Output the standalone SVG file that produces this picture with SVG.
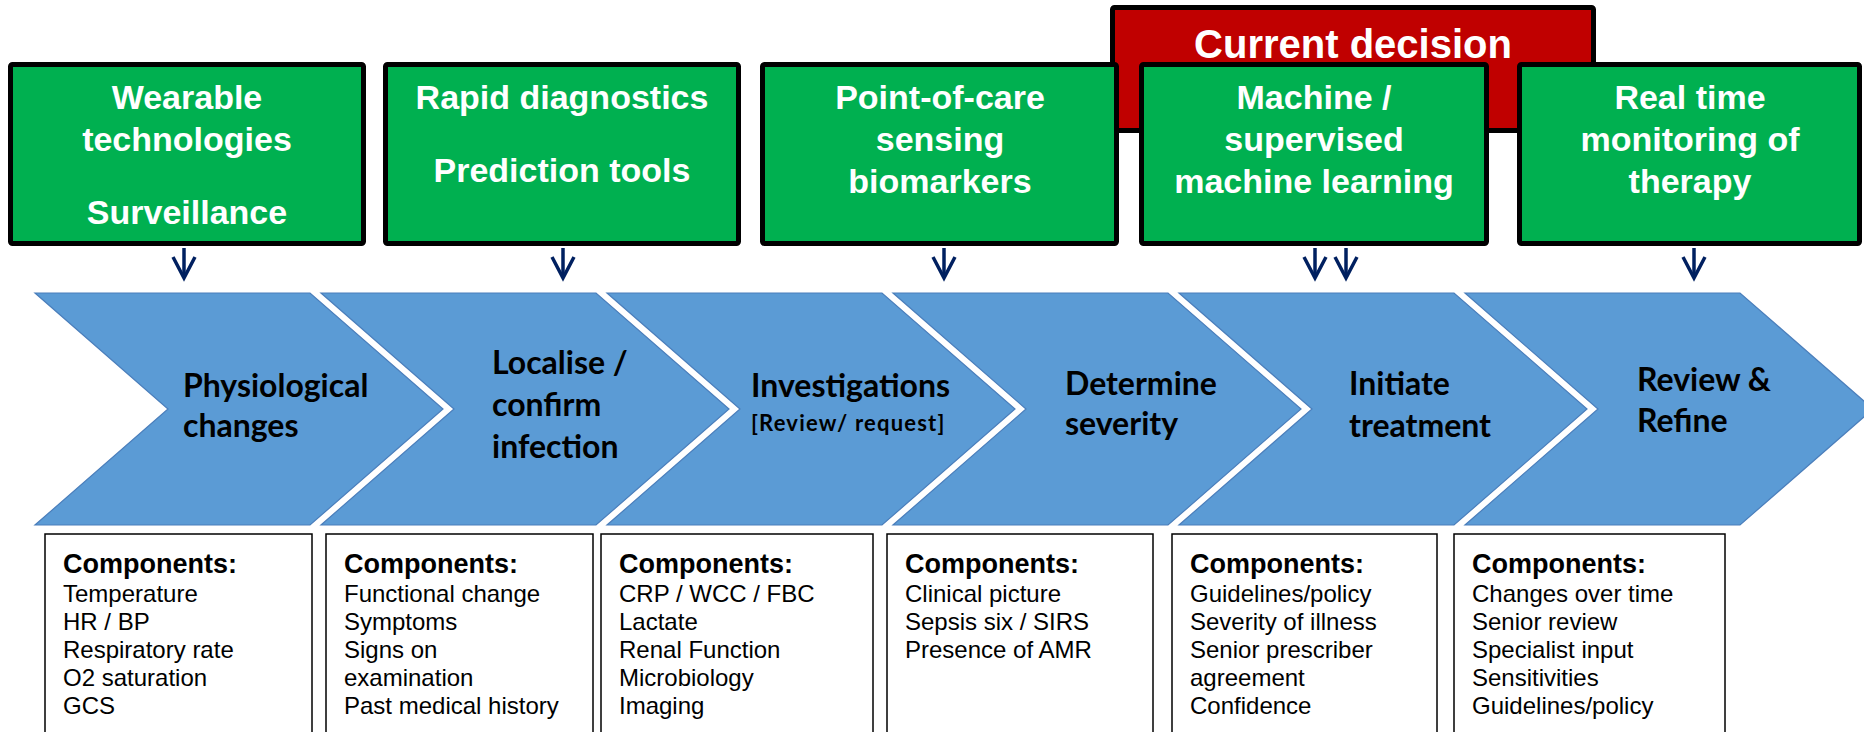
<svg xmlns="http://www.w3.org/2000/svg" width="1864" height="732" viewBox="0 0 1864 732">
<style>
.gbox{fill:#00B050;stroke:#000;stroke-width:5}
.rbox{fill:#C00000;stroke:#000;stroke-width:5}
.btxt{font-family:"Liberation Sans",Arial,sans-serif;font-weight:bold;font-size:34px;fill:#fff;text-anchor:middle}
.rtxt{font-family:"Liberation Sans",Arial,sans-serif;font-weight:bold;font-size:40px;fill:#fff;text-anchor:middle}
.chev{fill:#5B9BD5;stroke:#4A7EBB;stroke-width:1.2}
.ctxt{font-family:Lato,"Open Sans",sans-serif;font-weight:bold;font-size:32px;fill:#000}
.csub{font-family:Lato,"Open Sans",sans-serif;font-weight:bold;font-size:22px;fill:#000;letter-spacing:1.2px}
.comp{fill:#fff;stroke:#000;stroke-width:1.5}
.chd{font-family:"Liberation Sans",Arial,sans-serif;font-weight:bold;font-size:27px;fill:#000}
.cit{font-family:"Liberation Sans",Arial,sans-serif;font-size:24px;fill:#000}
.arr{stroke:#002060;stroke-width:3.5;fill:none}
</style>
<rect width="1864" height="732" fill="#fff"/>

<g id="current-decision">
<rect class="rbox" x="1112.5" y="7.5" width="481" height="123" rx="2"/>
<text class="rtxt" x="1353" y="58">Current decision</text>
</g>

<g id="box-wearable">
<rect class="gbox" x="10.5" y="64.5" width="353" height="179" rx="2"/>
<text class="btxt" x="187" y="109">Wearable</text>
<text class="btxt" x="187" y="151">technologies</text>
<text class="btxt" x="187" y="224">Surveillance</text>
</g>
<g id="box-rapid">
<rect class="gbox" x="385.5" y="64.5" width="353" height="179" rx="2"/>
<text class="btxt" x="562" y="109">Rapid diagnostics</text>
<text class="btxt" x="562" y="182">Prediction tools</text>
</g>
<g id="box-poc">
<rect class="gbox" x="762.5" y="64.5" width="354" height="179" rx="2"/>
<text class="btxt" x="940" y="109">Point-of-care</text>
<text class="btxt" x="940" y="151">sensing</text>
<text class="btxt" x="940" y="193">biomarkers</text>
</g>
<g id="box-ml">
<rect class="gbox" x="1141.5" y="64.5" width="345" height="179" rx="2"/>
<text class="btxt" x="1314" y="109">Machine /</text>
<text class="btxt" x="1314" y="151">supervised</text>
<text class="btxt" x="1314" y="193">machine learning</text>
</g>
<g id="box-rt">
<rect class="gbox" x="1519.5" y="64.5" width="340" height="179" rx="2"/>
<text class="btxt" x="1690" y="109">Real time</text>
<text class="btxt" x="1690" y="151">monitoring of</text>
<text class="btxt" x="1690" y="193">therapy</text>
</g>

<g id="connectors">
<line class="arr" x1="184" y1="248" x2="184" y2="277"/><polyline class="arr" points="173,257 184,278 195,257"/>
<line class="arr" x1="563" y1="248" x2="563" y2="277"/><polyline class="arr" points="552,257 563,278 574,257"/>
<line class="arr" x1="944" y1="248" x2="944" y2="277"/><polyline class="arr" points="933,257 944,278 955,257"/>
<line class="arr" x1="1315" y1="248" x2="1315" y2="277"/><polyline class="arr" points="1304,257 1315,278 1326,257"/>
<line class="arr" x1="1346" y1="248" x2="1346" y2="277"/><polyline class="arr" points="1335,257 1346,278 1357,257"/>
<line class="arr" x1="1694" y1="248" x2="1694" y2="277"/><polyline class="arr" points="1683,257 1694,278 1705,257"/>
</g>

<g id="step-physiological">
<polygon class="chev" points="35,293 310,293 443,409 310,525 35,525 168,409"/>
<text class="ctxt" x="183" y="397">Physiological</text>
<text class="ctxt" x="183" y="437">changes</text>
</g>
<g id="step-localise">
<polygon class="chev" points="321,293 596,293 729,409 596,525 321,525 454,409"/>
<text class="ctxt" x="492" y="374">Localise /</text>
<text class="ctxt" x="492" y="416">confirm</text>
<text class="ctxt" x="492" y="458">infection</text>
</g>
<g id="step-investigations">
<polygon class="chev" points="607,293 882,293 1015,409 882,525 607,525 740,409"/>
<text class="ctxt" x="751" y="397">Investigations</text>
<text class="csub" x="751" y="431">[Review/ request]</text>
</g>
<g id="step-severity">
<polygon class="chev" points="893,293 1168,293 1301,409 1168,525 893,525 1026,409"/>
<text class="ctxt" x="1065" y="395">Determine</text>
<text class="ctxt" x="1065" y="435">severity</text>
</g>
<g id="step-treatment">
<polygon class="chev" points="1179,293 1454,293 1587,409 1454,525 1179,525 1312,409"/>
<text class="ctxt" x="1349" y="395">Initiate</text>
<text class="ctxt" x="1349" y="437">treatment</text>
</g>
<g id="step-review">
<polygon class="chev" points="1465,293 1740,293 1873,409 1740,525 1465,525 1598,409"/>
<text class="ctxt" x="1637" y="391">Review &amp;</text>
<text class="ctxt" x="1637" y="432">Refine</text>
</g>

<g id="comp-physiological">
<rect class="comp" x="45" y="534" width="267" height="220"/>
<text class="chd" x="63" y="573">Components:</text>
<text class="cit" x="63" y="602">Temperature</text>
<text class="cit" x="63" y="630">HR / BP</text>
<text class="cit" x="63" y="658">Respiratory rate</text>
<text class="cit" x="63" y="686">O2 saturation</text>
<text class="cit" x="63" y="714">GCS</text>
</g>
<g id="comp-localise">
<rect class="comp" x="326" y="534" width="267" height="220"/>
<text class="chd" x="344" y="573">Components:</text>
<text class="cit" x="344" y="602">Functional change</text>
<text class="cit" x="344" y="630">Symptoms</text>
<text class="cit" x="344" y="658">Signs on</text>
<text class="cit" x="344" y="686">examination</text>
<text class="cit" x="344" y="714">Past medical history</text>
</g>
<g id="comp-investigations">
<rect class="comp" x="601" y="534" width="272" height="220"/>
<text class="chd" x="619" y="573">Components:</text>
<text class="cit" x="619" y="602">CRP / WCC / FBC</text>
<text class="cit" x="619" y="630">Lactate</text>
<text class="cit" x="619" y="658">Renal Function</text>
<text class="cit" x="619" y="686">Microbiology</text>
<text class="cit" x="619" y="714">Imaging</text>
</g>
<g id="comp-severity">
<rect class="comp" x="887" y="534" width="266" height="220"/>
<text class="chd" x="905" y="573">Components:</text>
<text class="cit" x="905" y="602">Clinical picture</text>
<text class="cit" x="905" y="630">Sepsis six / SIRS</text>
<text class="cit" x="905" y="658">Presence of AMR</text>
</g>
<g id="comp-treatment">
<rect class="comp" x="1172" y="534" width="265" height="220"/>
<text class="chd" x="1190" y="573">Components:</text>
<text class="cit" x="1190" y="602">Guidelines/policy</text>
<text class="cit" x="1190" y="630">Severity of illness</text>
<text class="cit" x="1190" y="658">Senior prescriber</text>
<text class="cit" x="1190" y="686">agreement</text>
<text class="cit" x="1190" y="714">Confidence</text>
</g>
<g id="comp-review">
<rect class="comp" x="1454" y="534" width="271" height="220"/>
<text class="chd" x="1472" y="573">Components:</text>
<text class="cit" x="1472" y="602">Changes over time</text>
<text class="cit" x="1472" y="630">Senior review</text>
<text class="cit" x="1472" y="658">Specialist input</text>
<text class="cit" x="1472" y="686">Sensitivities</text>
<text class="cit" x="1472" y="714">Guidelines/policy</text>
</g>
</svg>
